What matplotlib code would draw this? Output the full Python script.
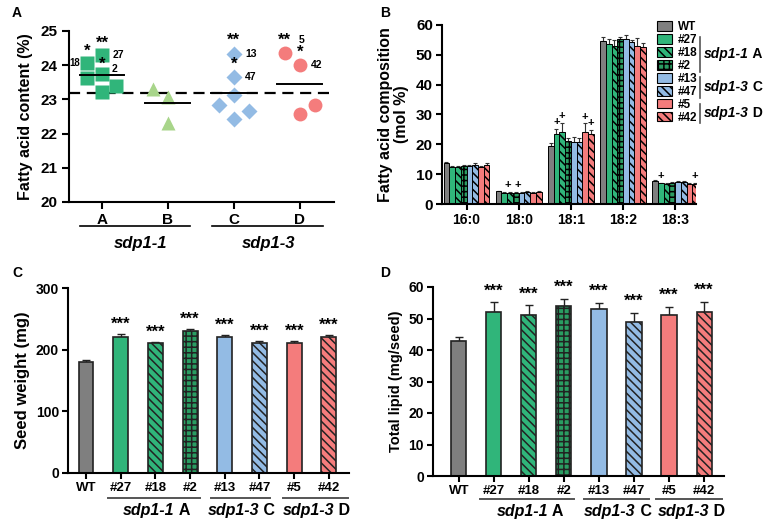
import matplotlib
matplotlib.use("Agg")
import matplotlib.pyplot as plt
import numpy as np
from matplotlib.patches import Patch
from matplotlib.lines import Line2D

plt.rcParams['font.family'] = ['Liberation Sans', 'DejaVu Sans']
plt.rcParams['font.weight'] = 'bold'
plt.rcParams['hatch.linewidth'] = 1.1
plt.rcParams['axes.linewidth'] = 1.5

W, H = 767, 524
fig = plt.figure(figsize=(W / 100, H / 100), dpi=100)

def rect(l, t, r, b):
    return [l / W, 1 - b / H, (r - l) / W, (b - t) / H]

# ---------------- DATA ----------------
# Panel A: fatty acid content (%) per line, grouped A-D
A_pts_x = [-0.22, 0.0, 0.0, -0.22, 0.0, 0.21]
A_pts_y = [24.05, 24.29, 23.74, 23.63, 23.21, 23.40]
B_pts_x = [-0.22, 0.0, 0.0]
B_pts_y = [23.30, 23.08, 22.31]
C_pts_x = [0.0, 0.0, 0.0, -0.22, 0.0, 0.23]
C_pts_y = [24.32, 23.66, 23.13, 22.84, 22.43, 22.67]
D_pts_x = [-0.23, 0.0, 0.0, 0.23]
D_pts_y = [24.37, 24.00, 22.57, 22.84]
wt_level = 23.2
groupA_cats = ['A', 'B', 'C', 'D']

# Panel B: fatty acid composition (mol %)
fa_species = ['16:0', '18:0', '18:1', '18:2', '18:3']
lines = ['WT', '#27', '#18', '#2', '#13', '#47', '#5', '#42']
comp_WT   = [13.6, 4.2, 19.5, 54.8, 7.6]
comp_27   = [12.3, 3.8, 23.3, 53.7, 6.9]
comp_18   = [12.3, 3.7, 24.3, 53.0, 6.6]
comp_2    = [12.7, 3.7, 21.0, 55.3, 7.0]
comp_13   = [12.9, 3.8, 20.7, 55.2, 7.3]
comp_47   = [13.2, 4.0, 20.9, 54.2, 7.4]
comp_5    = [12.4, 3.8, 24.0, 53.0, 6.8]
comp_42   = [13.0, 4.0, 23.5, 52.7, 6.7]
err_WT = [0.4, 0.2, 1.0, 1.3, 0.3]
err_27 = [0.3, 0.2, 2.0, 1.7, 0.3]
err_18 = [0.3, 0.2, 2.8, 2.0, 0.4]
err_2  = [0.3, 0.2, 1.2, 0.8, 0.3]
err_13 = [0.3, 0.2, 1.7, 1.4, 0.3]
err_47 = [0.4, 0.2, 1.3, 0.8, 0.4]
err_5  = [0.4, 0.2, 3.0, 2.8, 0.4]
err_42 = [0.6, 0.2, 1.3, 1.2, 0.3]
# '+' marks: (species index, line index)
plus_marks = [(1, 2), (1, 3), (2, 1), (2, 2), (2, 6), (2, 7), (4, 1), (4, 7)]

# Panel C: seed weight (mg)
seed_weight = [180, 221, 211, 231, 221, 211, 211, 221]
seed_err    = [3, 4, 1.5, 2, 2, 3, 3, 2]
# Panel D: total lipid (mg/seed)
total_lipid = [43, 52, 51, 54, 53, 49, 51, 52]
lipid_err   = [1.2, 3.2, 3.2, 2.3, 2.0, 2.8, 2.7, 3.3]
group_names = ['sdp1-1', 'sdp1-3', 'sdp1-3']
group_letters = ['A', 'C', 'D']

# ---------------- STYLES ----------------
GREY = '#7f7f7f'
GREEN = '#30b57a'
DKGREEN = '#2a9d62'
BLUE = '#93bbe4'
RED = '#f47c7c'
LTGREEN = '#a8d58a'
face = [GREY, GREEN, GREEN, DKGREEN, BLUE, BLUE, RED, RED]
hatch = [None, None, '\\\\\\\\', '+++', None, '\\\\\\\\', None, '\\\\\\\\']

def style_axes(ax):
    for s in ['top', 'right']:
        ax.spines[s].set_visible(False)
    ax.tick_params(width=1.5, length=4, direction='out', pad=2.5)

def group_label(ax, x, y, trans, name, fs):
    return ax.text(x, y, name, transform=trans, ha='center', va='center', fontsize=fs,
                   fontweight='bold', style='italic')

def two_part(ax, xc, y, trans, name, letter, fs):
    # italic name + upright letter
    t1 = ax.text(xc, y, name, transform=trans, ha='right', va='center', fontsize=fs,
                 fontweight='bold', style='italic')
    t2 = ax.annotate(' ' + letter, xy=(1, 0.5), xycoords=t1, ha='left', va='center',
                     fontsize=fs, fontweight='bold')
    return t1, t2

# ---------------- PANEL A ----------------
axA = fig.add_axes(rect(69, 31, 334, 202))
style_axes(axA)
axA.tick_params(length=5, pad=3)
sets = [(A_pts_x, A_pts_y, 's', GREEN, 0, 10),
        (B_pts_x, B_pts_y, '^', LTGREEN, 1, 10),
        (C_pts_x, C_pts_y, 'D', BLUE, 2, 8.5),
        (D_pts_x, D_pts_y, 'o', RED, 3, 10)]
axA.axhline(wt_level, color='black', lw=1.6, ls=(0, (5, 3)), zorder=2)
for xs, ys, m, c, gi, ms in sets:
    axA.plot(np.array(xs) + gi, ys, ls='none', marker=m, ms=ms, color=c, mec='none', zorder=3)
    mean = np.mean(ys)
    axA.plot([gi - 0.34, gi + 0.34], [mean, mean], color='black', lw=1.4, zorder=4)
axA.set_xlim(-0.5, 3.52)
axA.set_ylim(20, 25)
axA.set_yticks([20, 21, 22, 23, 24, 25])
axA.set_xticks(range(4))
axA.set_xticklabels(groupA_cats)
axA.tick_params(labelsize=11)
axA.set_ylabel('Fatty acid content (%)', fontsize=11.5, fontweight='bold', labelpad=6)
def ann(ax, x, y, s, dx, dy, fs, ha='center'):
    ax.annotate(s, (x, y), xytext=(dx, dy), textcoords='offset points', ha=ha, va='center',
                fontsize=fs, fontweight='bold')
ann(axA, A_pts_x[0], A_pts_y[0], '*', 0, 9, 12)
ann(axA, A_pts_x[0], A_pts_y[0], '18', -5.5, 0, 7, 'right')
ann(axA, A_pts_x[1], A_pts_y[1], '**', 0, 9, 12)
ann(axA, A_pts_x[1], A_pts_y[1], '27', 8, 0, 7.5, 'left')
ann(axA, A_pts_x[2], A_pts_y[2], '*', 0, 7, 12)
ann(axA, A_pts_x[2], A_pts_y[2], '2', 7, 4, 7.5, 'left')
ann(axA, 2 + C_pts_x[0], C_pts_y[0], '**', 0, 10, 12)
ann(axA, 2 + C_pts_x[0], C_pts_y[0], '13', 8, 0, 7.5, 'left')
ann(axA, 2 + C_pts_x[1], C_pts_y[1], '*', 0, 9, 12)
ann(axA, 2 + C_pts_x[1], C_pts_y[1], '47', 8, 0, 7.5, 'left')
ann(axA, 3 + D_pts_x[0], D_pts_y[0], '**', 0, 9, 12)
ann(axA, 3 + D_pts_x[0], D_pts_y[0], '5', 10, 9, 7.5, 'left')
ann(axA, 3 + D_pts_x[1], D_pts_y[1], '*', 0, 9, 12)
ann(axA, 3 + D_pts_x[1], D_pts_y[1], '42', 8, 0, 7.5, 'left')
tA = axA.get_xaxis_transform()
for (x0, x1, name, xc) in [(-0.33, 1.33, 'sdp1-1', 0.58), (1.67, 3.35, 'sdp1-3', 2.53)]:
    axA.plot([x0, x1], [-0.14, -0.14], transform=tA, color='black', lw=1.2, clip_on=False)
    group_label(axA, xc, -0.245, tA, name, 12)

# ---------------- PANEL B ----------------
axB = fig.add_axes(rect(442, 25, 696, 204))
style_axes(axB)
comp = [comp_WT, comp_27, comp_18, comp_2, comp_13, comp_47, comp_5, comp_42]
errs = [err_WT, err_27, err_18, err_2, err_13, err_47, err_5, err_42]
xg = np.arange(len(fa_species))
bw = 0.11
for i in range(8):
    xs = xg + (i - 3.5) * bw
    axB.bar(xs, comp[i], width=bw, color=face[i], edgecolor='black', lw=0.7,
            hatch=hatch[i], zorder=2)
    axB.errorbar(xs, comp[i], yerr=[np.zeros(5), errs[i]], fmt='none', ecolor='#333333',
                 elinewidth=0.8, capsize=1.5, capthick=0.8, zorder=1)
plus_dx = {(1, 2): -1.5, (1, 3): 1.5}
for si, li in plus_marks:
    x = si + (li - 3.5) * bw
    y = comp[li][si] + errs[li][si]
    axB.annotate('+', (x, y), xytext=(plus_dx.get((si, li), 0), 5), textcoords='offset points',
                 ha='center', va='center', fontsize=8, fontweight='bold')
axB.set_xlim(-0.47, 4.4)
axB.set_ylim(0, 60)
axB.set_yticks(range(0, 61, 10))
axB.set_xticks(xg)
axB.set_xticklabels(fa_species)
axB.tick_params(axis='y', labelsize=11)
axB.tick_params(axis='x', labelsize=10)
axB.set_ylabel('Fatty acid composition\n(mol %)', fontsize=11.5, fontweight='bold', labelpad=5,
               linespacing=1.1)
handles = [Patch(facecolor=face[i], edgecolor='black', lw=0.8, hatch=hatch[i]) for i in range(8)]
axB.legend(handles, lines, loc='upper left', bbox_to_anchor=(657 / W, 1 - 21 / H),
           bbox_transform=fig.transFigure, frameon=False,
           handlelength=1.25, handleheight=0.9, labelspacing=0.08, handletextpad=0.5,
           borderpad=0, borderaxespad=0, prop={'weight': 'bold', 'size': 8.5})
for (t, b, name, letter, yc) in [(37, 72, 'sdp1-1', 'A', 54), (77, 98, 'sdp1-3', 'C', 87),
                                 (104, 123, 'sdp1-3', 'D', 113)]:
    fig.add_artist(Line2D([700 / W, 700 / W], [1 - t / H, 1 - b / H], color='#555555', lw=1.2))
    t1 = fig.text(704 / W, 1 - yc / H, name, fontsize=10, fontweight='bold', style='italic',
                  ha='left', va='center')
    axB.annotate(' ' + letter, xy=(1, 0.5), xycoords=t1, ha='left', va='center',
                 fontsize=10, fontweight='bold', annotation_clip=False)

# ---------------- PANELS C & D ----------------
def bar_panel(ax, vals, err, ylim, yticks, ylabel, ylfs, star_dy):
    style_axes(ax)
    x = np.arange(len(vals))
    for i in range(len(vals)):
        ax.bar(x[i], vals[i], width=0.43, color=face[i], edgecolor='#222222', lw=1.2,
               hatch=hatch[i], zorder=2)
    ax.errorbar(x, vals, yerr=[np.zeros(len(vals)), err], fmt='none', ecolor='#222222',
                elinewidth=1.0, capsize=3, capthick=1.0, zorder=1)
    for i in range(1, len(vals)):
        ax.annotate('***', (x[i], vals[i] + err[i]), xytext=(0, star_dy), textcoords='offset points',
                    ha='center', va='center', fontsize=12, fontweight='bold')
    ax.set_ylim(*ylim)
    ax.set_yticks(yticks)
    ax.set_xticks(x)
    ax.set_xticklabels(lines)
    ax.tick_params(axis='y', labelsize=10)
    ax.tick_params(axis='x', labelsize=9.5)
    ax.set_ylabel(ylabel, fontsize=ylfs, fontweight='bold')
    return ax.get_xaxis_transform()

axC = fig.add_axes(rect(68, 288, 349, 473))
axC.set_xlim(-0.52, 7.58)
tC = bar_panel(axC, seed_weight, seed_err, (0, 300), [0, 100, 200, 300], 'Seed weight (mg)', 12, 7)
for (x0, x1, name, letter, xc) in [(0.63, 3.29, 'sdp1-1', 'A', 2.0), (3.6, 5.3, 'sdp1-3', 'C', 4.45),
                                   (5.68, 7.55, 'sdp1-3', 'D', 6.6)]:
    axC.plot([x0, x1], [-0.135, -0.135], transform=tC, color='#555555', lw=1.4, clip_on=False)
    two_part(axC, xc + 0.55, -0.205, tC, name, letter, 11.5)

axD = fig.add_axes(rect(433, 287, 724, 476))
axD.set_xlim(-0.74, 7.57)
tD = bar_panel(axD, total_lipid, lipid_err, (0, 60), list(range(0, 61, 10)), 'Total lipid (mg/seed)', 10.5, 8)
for (x0, x1, name, letter, xc) in [(0.6, 3.29, 'sdp1-1', 'A', 2.0), (3.57, 5.43, 'sdp1-3', 'C', 4.5),
                                   (5.63, 7.5, 'sdp1-3', 'D', 6.6)]:
    axD.plot([x0, x1], [-0.12, -0.12], transform=tD, color='#555555', lw=1.4, clip_on=False)
    two_part(axD, xc + 0.55, -0.19, tD, name, letter, 11.5)

# panel letters
for letter, px, py in [('A', 12, 13), ('B', 380, 13), ('C', 12, 273), ('D', 380, 273)]:
    fig.text(px / W, 1 - py / H, letter, fontsize=10, fontweight='bold', ha='left', va='center')

fig.savefig('out.png', dpi=100)
